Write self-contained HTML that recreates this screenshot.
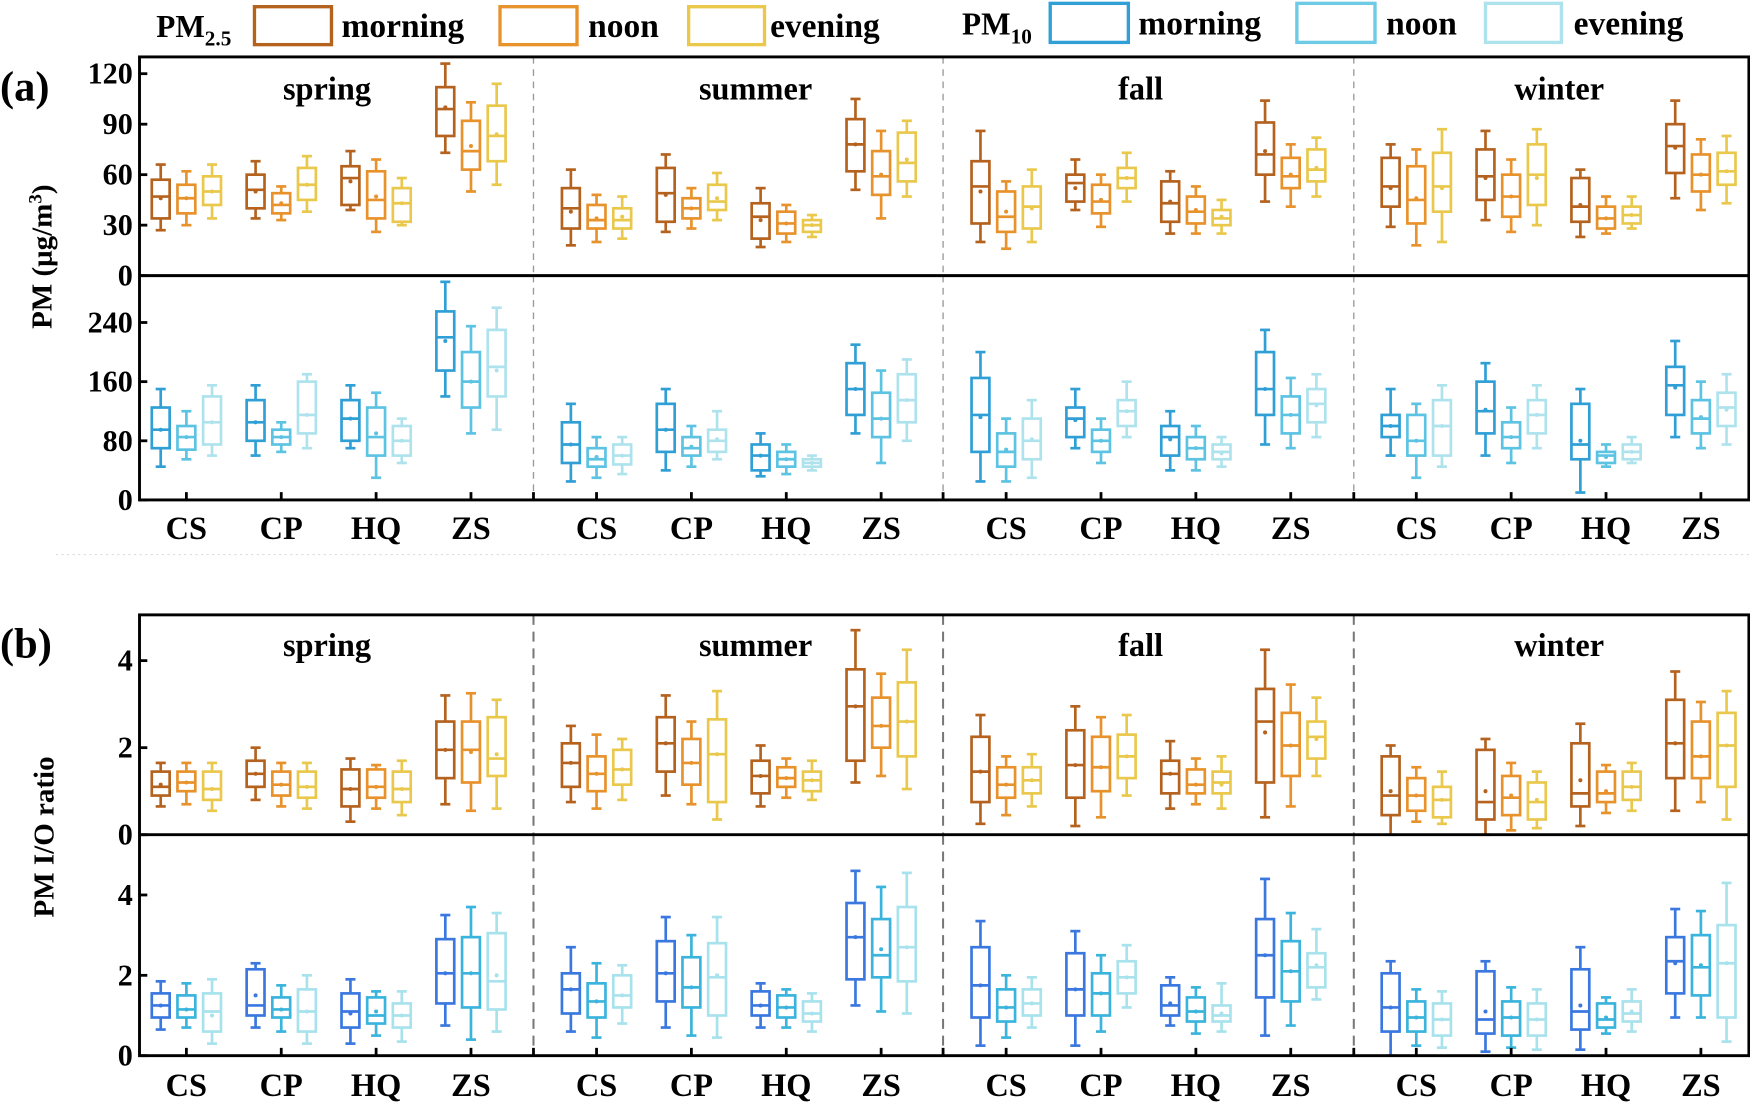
<!DOCTYPE html>
<html><head><meta charset="utf-8"><style>
html,body{margin:0;padding:0;background:#fff;}
svg{display:block;}
svg text{font-family:"Liberation Serif","DejaVu Serif",serif !important;font-weight:bold;fill:#000;}
</style></head><body>
<svg id="s" width="1750" height="1107" viewBox="0 0 1568 992" preserveAspectRatio="none" xmlns="http://www.w3.org/2000/svg" font-family="Liberation Serif, serif" font-weight="bold">
<g id="legend">
<text x="140" y="33" font-size="28">PM<tspan font-size="19" dy="8">2.5</tspan></text>
<rect x="228" y="6" width="69" height="34" fill="none" stroke="#b4621e" stroke-width="3"/>
<text x="306" y="33" font-size="30">morning</text>
<rect x="448" y="6" width="69" height="34" fill="none" stroke="#e8922c" stroke-width="3"/>
<text x="527" y="33" font-size="30">noon</text>
<rect x="617" y="6" width="68" height="34" fill="none" stroke="#e9c84c" stroke-width="3"/>
<text x="690" y="33" font-size="30">evening</text>
<text x="862" y="31" font-size="28">PM<tspan font-size="19" dy="8">10</tspan></text>
<rect x="941" y="3" width="70" height="35" fill="none" stroke="#2f9fd6" stroke-width="3"/>
<text x="1020" y="31" font-size="30">morning</text>
<rect x="1162" y="3" width="70" height="35" fill="none" stroke="#6ecbe6" stroke-width="3"/>
<text x="1242" y="31" font-size="30">noon</text>
<rect x="1331" y="3" width="68" height="35" fill="none" stroke="#aee3ee" stroke-width="3"/>
<text x="1410" y="31" font-size="30">evening</text>
</g>
<text x="0" y="90" font-size="38">(a)</text>
<text x="0" y="589" font-size="38">(b)</text>
<text transform="translate(46,230) rotate(-90)" font-size="26" text-anchor="middle">PM (μg/m<tspan font-size="17" dy="-9">3</tspan><tspan dy="9">)</tspan></text>
<text transform="translate(48,750) rotate(-90)" font-size="26" text-anchor="middle">PM I/O ratio</text>
<line x1="50" y1="497" x2="1568" y2="497" stroke="#ddd" stroke-width="1" stroke-dasharray="2,3"/>
</svg>
<script>
const S=document.getElementById('s');const NS='http://www.w3.org/2000/svg';
function el(t,a,txt){const e=document.createElementNS(NS,t);for(const k in a)e.setAttribute(k,a[k]);if(txt!==undefined)e.textContent=txt;S.appendChild(e);return e;}
const L=125,R=1567,div=[478,845,1213];
const centers=[];
for(let s=0;s<4;s++)for(let i=0;i<4;i++)centers.push([125,492.5,859.5,1227][s]+42+85*i);
const c25=['#b4621e','#e8922c','#e9c84c'],c10a=['#2f9fd6','#5cc3e2','#aee3ee'],c10b=['#3a78e0','#3ab4dc','#a8e2ec'];
const panels=[
{y0:247,top:51,pxu:1.508,ticks:[0,30,60,90,120],cols:c25,titles:true,tY:89,data:[
[27,34,47,57,66,46],[30,37,46,54,62,46],[34,42,50,59,66,50],
[34,40,51,60,68,50],[33,37,42,49,53,43],[38,45,54,64,71,54],
[39,42,58,65,74,56],[26,34,45,62,69,47],[30,32,43,52,58,43],
[73,83,99,112,126,100],[50,63,74,92,103,77],[54,68,83,101,114,84],
[18,28,40,52,63,38],[20,28,33,42,48,34],[22,28,33,40,47,35],
[26,32,49,64,72,48],[28,34,40,46,52,40],[33,39,44,54,61,46],
[17,22,35,43,52,33],[20,25,31,38,42,31],[23,26,30,33,36,30],
[51,62,78,93,105,78],[34,48,59,74,86,60],[47,56,67,85,92,69],
[20,31,53,68,86,50],[16,26,35,50,56,38],[20,28,41,53,63,40],
[39,44,55,60,69,52],[29,37,44,54,60,45],[44,52,58,64,73,58],
[25,32,43,56,62,44],[25,31,38,47,53,39],[25,30,34,39,45,35],
[44,60,72,91,104,74],[41,52,59,70,78,60],[47,56,63,75,82,64],
[29,41,53,70,78,52],[18,31,45,65,75,46],[20,38,53,73,87,52],
[33,45,59,75,86,58],[26,35,47,60,69,47],[30,42,60,78,87,58],
[23,32,41,58,63,42],[25,28,34,41,47,34],[28,31,36,41,47,36],
[46,61,77,90,104,76],[39,50,60,72,81,60],[43,54,62,73,83,62]]},
{y0:448,top:247,pxu:0.6625,ticks:[0,80,160,240],cols:c10a,xl:483,data:[
[45,70,95,125,150,95],[55,68,85,100,120,85],[60,75,105,140,155,105],
[60,80,105,135,155,105],[65,75,85,95,105,85],[70,90,115,160,170,115],
[70,80,110,135,155,110],[30,60,85,125,145,90],[50,60,80,100,110,80],
[140,175,220,255,295,215],[90,125,160,200,235,160],[95,140,180,230,260,175],
[25,50,75,105,130,75],[30,45,55,70,85,58],[35,48,60,75,85,60],
[40,65,95,130,150,95],[45,60,70,85,100,72],[55,65,80,95,120,82],
[32,40,60,75,90,60],[35,45,55,65,75,55],[40,45,50,55,60,50],
[90,115,150,185,210,150],[50,85,110,145,175,110],[80,105,135,170,190,135],
[25,65,115,165,200,112],[25,45,65,90,110,68],[30,55,80,110,135,82],
[70,85,110,125,150,108],[50,65,80,95,110,80],[85,100,120,135,160,120],
[40,60,85,100,120,82],[40,55,70,85,100,70],[45,55,65,75,85,63],
[75,115,150,200,230,150],[70,90,115,140,165,115],[85,105,130,150,170,128],
[60,85,100,115,150,100],[30,60,80,115,130,80],[45,60,100,135,155,100],
[60,90,120,160,185,122],[50,70,85,105,125,85],[70,90,115,135,155,115],
[10,55,75,130,150,80],[45,50,60,65,75,58],[50,55,65,75,85,65],
[85,115,155,180,215,152],[70,90,110,135,160,112],[75,100,125,145,170,122]]},
{y0:748,top:551,pxu:39,ticks:[0,2,4],cols:c25,titles:true,tY:588,data:[
[.65,.9,1.1,1.45,1.65,1.15],[.7,1,1.2,1.45,1.65,1.2],[.55,.8,1.05,1.45,1.65,1.05],
[.8,1.1,1.4,1.7,2,1.4],[.65,.9,1.15,1.45,1.65,1.15],[.6,.85,1.1,1.45,1.65,1.1],
[.3,.65,1.05,1.5,1.75,1.05],[.6,.85,1.1,1.5,1.6,1.1],[.45,.75,1.05,1.45,1.7,1.05],
[.7,1.3,1.95,2.6,3.2,1.95],[.55,1.2,1.95,2.6,3.25,1.9],[.6,1.35,1.75,2.7,3.1,1.85],
[.75,1.1,1.65,2.1,2.5,1.65],[.6,1,1.4,1.8,2.3,1.4],[.8,1.15,1.5,1.95,2.2,1.5],
[.9,1.45,2.1,2.7,3.2,2.1],[.7,1.15,1.65,2.2,2.6,1.65],[.35,.75,1.85,2.65,3.3,1.85],
[.65,.95,1.35,1.7,2.05,1.35],[.85,1.1,1.3,1.55,1.75,1.3],[.8,1,1.25,1.45,1.7,1.25],
[1.2,1.7,2.95,3.8,4.7,2.95],[1.35,2,2.5,3.15,3.7,2.5],[1.05,1.8,2.6,3.5,4.25,2.6],
[.25,.75,1.45,2.25,2.75,1.45],[.45,.85,1.15,1.55,1.8,1.15],[.65,.95,1.25,1.55,1.85,1.25],
[.2,.85,1.6,2.4,2.95,1.6],[.4,1,1.55,2.25,2.7,1.55],[.9,1.3,1.8,2.3,2.75,1.8],
[.6,.95,1.4,1.7,2.15,1.4],[.7,.95,1.15,1.5,1.75,1.15],[.6,.95,1.2,1.45,1.8,1.15],
[.4,1.2,2.6,3.35,4.25,2.35],[.65,1.35,2.05,2.8,3.45,2.05],[1.35,1.75,2.25,2.6,3.15,2.2],
[0,.45,.9,1.8,2.05,1],[.3,.55,.9,1.3,1.55,.9],[.25,.4,.8,1.1,1.45,.8],
[0,.35,.75,1.95,2.2,1],[.1,.45,.85,1.35,1.65,.9],[.15,.35,.75,1.2,1.45,.8],
[.2,.65,.95,2.1,2.55,1.25],[.5,.75,.95,1.45,1.6,1],[.55,.8,1.1,1.45,1.65,1.1],
[.55,1.3,2.1,3.1,3.75,2.1],[.75,1.3,1.8,2.6,3.05,1.8],[.35,1.1,2.05,2.8,3.3,2.05]]},
{y0:946,top:748,pxu:36,ticks:[0,2,4],cols:c10b,xl:982,data:[
[.65,.95,1.25,1.55,1.85,1.25],[.7,.95,1.15,1.5,1.8,1.15],[.3,.6,1.1,1.55,1.9,1],
[.7,1,1.25,2.15,2.3,1.5],[.6,.95,1.15,1.45,1.75,1.15],[.3,.6,1.1,1.65,2,1.1],
[.3,.7,1.1,1.55,1.9,1.05],[.5,.8,1,1.45,1.6,1.1],[.35,.7,1,1.3,1.6,1],
[.75,1.3,2.05,2.9,3.5,2.05],[.4,1.2,2.05,2.95,3.7,2.05],[.6,1.15,1.85,3.05,3.55,2],
[.6,1.05,1.65,2.05,2.7,1.65],[.45,.95,1.35,1.8,2.3,1.35],[.8,1.2,1.5,2,2.25,1.5],
[.7,1.35,2.05,2.85,3.45,2.05],[.5,1.2,1.7,2.45,3,1.7],[.45,1,1.95,2.8,3.45,2],
[.7,1,1.25,1.6,1.8,1.25],[.7,.95,1.2,1.5,1.65,1.2],[.6,.85,1.05,1.35,1.55,1.05],
[1.25,1.9,2.95,3.8,4.6,2.95],[1.1,1.95,2.5,3.4,4.2,2.65],[1.05,1.85,2.7,3.7,4.55,2.7],
[.25,.95,1.75,2.7,3.35,1.75],[.45,.85,1.2,1.65,2,1.2],[.7,1,1.3,1.65,1.95,1.3],
[.25,1,1.65,2.55,3.1,1.65],[.6,1,1.55,2.05,2.5,1.55],[1.2,1.55,1.95,2.35,2.75,1.95],
[.75,1,1.25,1.75,1.95,1.3],[.55,.85,1.1,1.45,1.7,1.1],[.6,.85,1,1.25,1.8,1.05],
[.5,1.45,2.5,3.4,4.4,2.5],[.75,1.35,2.1,2.85,3.55,2.1],[1.4,1.7,2.2,2.55,3.15,2.25],
[0,.6,1.2,2.05,2.35,1.2],[.25,.6,.95,1.35,1.65,.95],[.2,.5,.9,1.3,1.6,.9],
[.1,.55,.9,2.1,2.35,1.1],[.2,.5,.95,1.35,1.7,.95],[.15,.5,.9,1.3,1.65,.9],
[.15,.65,1.1,2.15,2.7,1.25],[.55,.7,.9,1.3,1.45,.95],[.6,.85,1.05,1.35,1.65,1.1],
[.95,1.55,2.35,2.95,3.65,2.3],[.95,1.5,2.2,3,3.6,2.25],[.35,.95,2.3,3.25,4.3,2.3]]}
];
const seasons=['spring','summer','fall','winter'],sites=['CS','CP','HQ','ZS'];
const F={'font-family':'Liberation Serif, serif','font-weight':'bold'};
panels.forEach((p,pi)=>{
  const Y=v=>p.y0-v*p.pxu;
  div.forEach(x=>el('line',{x1:x,y1:p.top,x2:x,y2:p.y0,stroke:pi>=2?'#777':'#999','stroke-width':pi>=2?1.8:1.2,'stroke-dasharray':pi>=2?'9,6':'6,5'}));
  p.data.forEach((d,k)=>{
    const g=Math.floor(k/3),j=k%3,cx=centers[g]+(j-1)*23,w=16,col=p.cols[j];
    const a={stroke:col,'stroke-width':2.4,fill:'none'};
    el('line',Object.assign({x1:cx,y1:Y(d[0]),x2:cx,y2:Y(d[1])},a));
    el('line',Object.assign({x1:cx,y1:Y(d[3]),x2:cx,y2:Y(d[4])},a));
    el('line',Object.assign({x1:cx-4.5,y1:Y(d[0]),x2:cx+4.5,y2:Y(d[0])},a));
    el('line',Object.assign({x1:cx-4.5,y1:Y(d[4]),x2:cx+4.5,y2:Y(d[4])},a));
    el('rect',Object.assign({x:cx-w/2,y:Y(d[3]),width:w,height:Y(d[1])-Y(d[3])},a));
    el('line',Object.assign({x1:cx-w/2,y1:Y(d[2]),x2:cx+w/2,y2:Y(d[2])},a));
    el('circle',{cx:cx,cy:Y(d[5]),r:1.8,fill:col});
  });
  p.ticks.forEach(t=>{const y=Y(t);el('line',{x1:L,y1:y,x2:L+7,y2:y,stroke:'#000','stroke-width':2.5});
    el('text',Object.assign({x:L-6,y:y+9,'font-size':27,'text-anchor':'end'},F),t);});
  if(p.titles){[293,677,1022,1397].forEach((x,i)=>el('text',Object.assign({x:x,y:p.tY,'font-size':29,'text-anchor':'middle'},F),seasons[i]));}
  if(p.xl){centers.forEach((x,i)=>{el('line',{x1:x,y1:p.y0,x2:x,y2:p.y0-7,stroke:'#000','stroke-width':2.5});
    el('text',Object.assign({x:x,y:p.xl,'font-size':29,'text-anchor':'middle'},F),sites[i%4]);});
    div.forEach(x=>el('line',{x1:x,y1:p.y0,x2:x,y2:p.y0-7,stroke:'#000','stroke-width':2.5}));}
});
[[51,448],[551,946]].forEach(([t,b])=>el('rect',{x:L,y:t,width:R-L,height:b-t,fill:'none',stroke:'#000','stroke-width':2.6}));
el('line',{x1:L,y1:247,x2:R,y2:247,stroke:'#000','stroke-width':2.6});
el('line',{x1:L,y1:748,x2:R,y2:748,stroke:'#000','stroke-width':2.6});
</script>
</body></html>
